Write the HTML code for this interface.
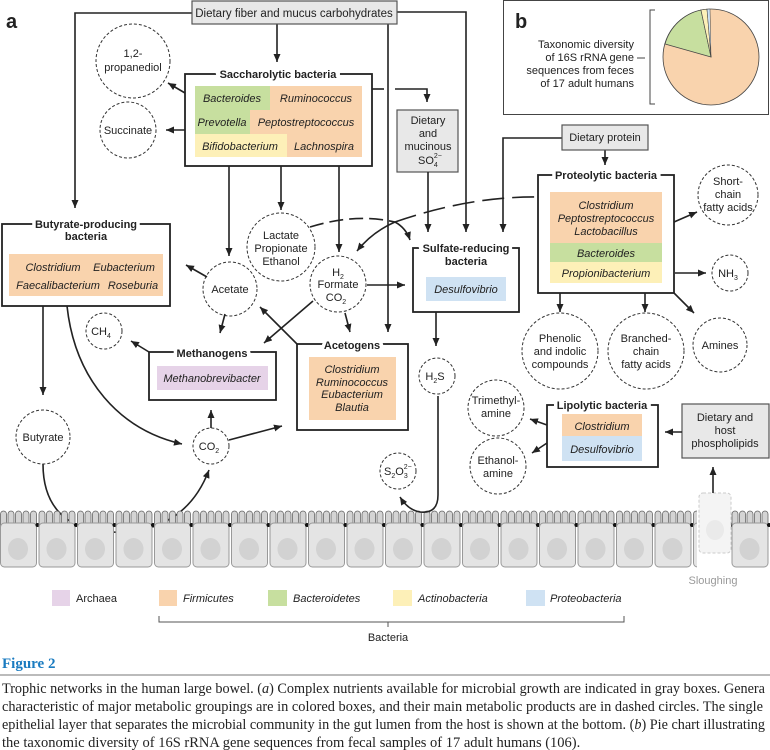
<!DOCTYPE html>
<html><head><meta charset="utf-8"><style>
html,body{margin:0;padding:0;background:#fff}
svg{display:block;font-family:"Liberation Sans",sans-serif}
.t{font-size:11px;fill:#222}
.b{font-size:11px;font-weight:bold;fill:#222;stroke:#fff;stroke-width:7px;paint-order:stroke}
.i{font-size:11px;font-style:italic;fill:#222}
.ln{stroke:#222;stroke-width:1.6;fill:none}
.ar{stroke:#222;stroke-width:1.6;fill:none;marker-end:url(#a)}
.dc{fill:#fff;stroke:#333;stroke-width:1;stroke-dasharray:3,2}
.bx{fill:#fff;stroke:#222;stroke-width:1.8}
.gb{fill:#e8e8e8;stroke:#555;stroke-width:1.2}
.cap{font-family:"Liberation Serif",serif;font-size:14.5px;fill:#222}
</style></head><body>
<svg width="770" height="750" viewBox="0 0 770 750" xmlns="http://www.w3.org/2000/svg">
<defs>
<marker id="a" markerUnits="userSpaceOnUse" markerWidth="10" markerHeight="8" refX="8" refY="3.5" orient="auto"><path d="M0,0 L8,3.5 L0,7 z" fill="#222"/></marker>
<pattern id="cell" patternUnits="userSpaceOnUse" x="0" y="505" width="38.5" height="70">
<rect x="0.5" y="6" width="6" height="20" rx="3" fill="#d4d4d4" stroke="#666" stroke-width=".8"/>
<rect x="8" y="6" width="6" height="20" rx="3" fill="#d4d4d4" stroke="#666" stroke-width=".8"/>
<rect x="15.5" y="6" width="6" height="20" rx="3" fill="#d4d4d4" stroke="#666" stroke-width=".8"/>
<rect x="23" y="6" width="6" height="20" rx="3" fill="#d4d4d4" stroke="#666" stroke-width=".8"/>
<rect x="30.5" y="6" width="6" height="20" rx="3" fill="#d4d4d4" stroke="#666" stroke-width=".8"/>
<rect x="0.5" y="18" width="36" height="44" rx="4" fill="#e4e4e4" stroke="#999" stroke-width="1"/>
<ellipse cx="18" cy="44" rx="10" ry="11" fill="#d2d2d2"/>
<circle cx="37.5" cy="20" r="2" fill="#111"/>
</pattern>
</defs>

<path class="ln" d="M43,464 C43,500 60,530 110,532 C150,534 190,520 209,470" marker-end="url(#a)"/>

<rect x="0" y="505" width="697" height="65" fill="url(#cell)"/>
<rect x="731" y="505" width="39" height="65" fill="url(#cell)"/>
<g opacity="0.6">
<rect x="699" y="493" width="32" height="60" rx="4" fill="#eee" stroke="#aaa" stroke-dasharray="3,2"/>
<ellipse cx="715" cy="530" rx="9" ry="10" fill="#ddd"/>
</g>
<text x="713" y="584" text-anchor="middle" class="t" style="fill:#999">Sloughing</text>

<text x="6" y="28" style="font-size:20px;font-weight:bold;fill:#222">a</text>

<path class="ar" d="M192,13 H75 V208"/>
<path class="ar" d="M397,12 H466 V232"/>
<path class="ar" d="M388,24 V332"/>
<path class="ar" d="M277,24 V62"/>
<rect class="gb" x="192" y="1" width="205" height="23"/>
<text x="294" y="17" text-anchor="middle" class="t" style="font-size:11.5px">Dietary fiber and mucus carbohydrates</text>

<rect class="bx" x="185" y="74" width="187" height="92"/>
<text x="278" y="78" text-anchor="middle" class="b">Saccharolytic bacteria</text>
<rect x="195" y="86" width="167" height="71" fill="#f9d3ad"/>
<path d="M195,86 H270 V110 H250 V134 H195 Z" fill="#c7df9f"/>
<rect x="195" y="134" width="92" height="23" fill="#fdf0b8"/>
<text x="232" y="102" text-anchor="middle" class="i">Bacteroides</text>
<text x="316" y="102" text-anchor="middle" class="i">Ruminococcus</text>
<text x="222" y="126" text-anchor="middle" class="i">Prevotella</text>
<text x="306" y="126" text-anchor="middle" class="i">Peptostreptococcus</text>
<text x="240" y="150" text-anchor="middle" class="i">Bifidobacterium</text>
<text x="324" y="150" text-anchor="middle" class="i">Lachnospira</text>

<circle class="dc" cx="133" cy="61" r="37"/>
<text x="133" y="57" text-anchor="middle" class="t">1,2-</text>
<text x="133" y="71" text-anchor="middle" class="t">propanediol</text>
<circle class="dc" cx="128" cy="130" r="28"/>
<text x="128" y="134" text-anchor="middle" class="t">Succinate</text>
<path class="ar" d="M185,93 L168,83"/>
<path class="ar" d="M185,130 L166,130"/>

<path class="ln" d="M372,89 H384"/>
<path class="ar" d="M395,89 H427 V102"/>
<rect class="gb" x="397" y="110" width="61" height="62"/>
<text x="428" y="124" text-anchor="middle" class="t">Dietary</text>
<text x="428" y="137" text-anchor="middle" class="t">and</text>
<text x="428" y="150" text-anchor="middle" class="t">mucinous</text>
<text x="418" y="164" class="t">SO<tspan font-size="7" dy="3">4</tspan><tspan font-size="7" dx="-4" dy="-9">2−</tspan></text>
<path class="ar" d="M428,172 V232"/>

<path class="ar" d="M229,166 V256"/>
<path class="ar" d="M281,166 V210"/>
<path class="ar" d="M339,166 V252"/>

<circle class="dc" cx="281" cy="247" r="34"/>
<text x="281" y="239" text-anchor="middle" class="t">Lactate</text>
<text x="281" y="252" text-anchor="middle" class="t">Propionate</text>
<text x="281" y="265" text-anchor="middle" class="t">Ethanol</text>
<circle class="dc" cx="230" cy="289" r="27"/>
<text x="230" y="293" text-anchor="middle" class="t">Acetate</text>
<circle class="dc" cx="338" cy="284" r="28"/>
<text x="338" y="276" text-anchor="middle" class="t">H<tspan font-size="7" dy="3">2</tspan></text>
<text x="338" y="288" text-anchor="middle" class="t">Formate</text>
<text x="336" y="301" text-anchor="middle" class="t">CO<tspan font-size="7" dy="3">2</tspan></text>

<path class="ln" d="M310,227 Q355,213 395,222" stroke-dasharray="14,6"/>
<path class="ln" d="M395,222 Q470,196 539,197" stroke-dasharray="22,8"/>
<path class="ar" d="M395,222 Q406,228 410,240"/>
<path class="ar" d="M395,222 Q372,232 357,251"/>

<rect class="bx" x="2" y="224" width="168" height="82"/>
<text x="86" y="228" text-anchor="middle" class="b">Butyrate-producing</text>
<text x="86" y="240" text-anchor="middle" class="b">bacteria</text>
<rect x="9" y="254" width="154" height="42" fill="#f9d3ad"/>
<text x="53" y="271" text-anchor="middle" class="i">Clostridium</text>
<text x="124" y="271" text-anchor="middle" class="i">Eubacterium</text>
<text x="58" y="289" text-anchor="middle" class="i">Faecalibacterium</text>
<text x="133" y="289" text-anchor="middle" class="i">Roseburia</text>
<path class="ar" d="M207,277 L186,265"/>

<path class="ar" d="M43,306 V395"/>
<circle class="dc" cx="43" cy="437" r="27"/>
<text x="43" y="441" text-anchor="middle" class="t">Butyrate</text>
<path class="ar" d="M67,306 C75,380 120,430 182,444"/>
<circle class="dc" cx="211" cy="446" r="18"/>
<text x="209" y="450" text-anchor="middle" class="t">CO<tspan font-size="7" dy="3">2</tspan></text>
<path class="ar" d="M211,428 V410"/>
<path class="ar" d="M229,440 L282,426"/>

<path class="ar" d="M225,314 L220,333"/>
<path class="ar" d="M313,301 L264,343"/>
<rect class="bx" x="149" y="352" width="127" height="48"/>
<text x="212" y="357" text-anchor="middle" class="b">Methanogens</text>
<rect x="157" y="366" width="111" height="24" fill="#e6d3e8"/>
<text x="212" y="382" text-anchor="middle" class="i">Methanobrevibacter</text>
<circle class="dc" cx="104" cy="331" r="18"/>
<text x="101" y="335" text-anchor="middle" class="t">CH<tspan font-size="7" dy="3">4</tspan></text>
<path class="ar" d="M149,352 L131,341"/>

<path class="ar" d="M297,344 L260,307"/>
<path class="ar" d="M345,313 L350,332"/>
<path class="ar" d="M367,285 H405"/>
<rect class="bx" x="297" y="344" width="111" height="86"/>
<text x="352" y="349" text-anchor="middle" class="b">Acetogens</text>
<rect x="309" y="357" width="87" height="63" fill="#f9d3ad"/>
<text x="352" y="373" text-anchor="middle" class="i">Clostridium</text>
<text x="352" y="386" text-anchor="middle" class="i">Ruminococcus</text>
<text x="352" y="398" text-anchor="middle" class="i">Eubacterium</text>
<text x="352" y="411" text-anchor="middle" class="i">Blautia</text>

<rect class="bx" x="413" y="248" width="106" height="64"/>
<text x="466" y="252" text-anchor="middle" class="b">Sulfate-reducing</text>
<text x="466" y="265" text-anchor="middle" class="b">bacteria</text>
<rect x="426" y="277" width="80" height="24" fill="#cfe2f3"/>
<text x="466" y="293" text-anchor="middle" class="i">Desulfovibrio</text>
<path class="ar" d="M436,312 V346"/>
<circle class="dc" cx="437" cy="376" r="18"/>
<text x="435" y="380" text-anchor="middle" class="t">H<tspan font-size="7" dy="3">2</tspan><tspan dy="-3">S</tspan></text>
<path class="ar" d="M438,396 V495 Q438,514 420,512 Q408,510 400,497"/>
<circle class="dc" cx="398" cy="471" r="18"/>
<text x="384" y="475" class="t">S<tspan font-size="7" dy="3">2</tspan><tspan dy="-3">O</tspan><tspan font-size="7" dy="3">3</tspan><tspan font-size="7" dx="-4" dy="-9">2−</tspan></text>

<path class="ar" d="M562,138 H503 V232"/>
<path class="ar" d="M605,150 V165"/>
<rect class="gb" x="562" y="125" width="86" height="25"/>
<text x="605" y="141" text-anchor="middle" class="t">Dietary protein</text>
<rect class="bx" x="538" y="175" width="136" height="118"/>
<text x="606" y="179" text-anchor="middle" class="b">Proteolytic bacteria</text>
<rect x="550" y="192" width="112" height="51" fill="#f9d3ad"/>
<rect x="550" y="243" width="112" height="19" fill="#c7df9f"/>
<rect x="550" y="262" width="112" height="21" fill="#fdf0b8"/>
<text x="606" y="209" text-anchor="middle" class="i">Clostridium</text>
<text x="606" y="222" text-anchor="middle" class="i">Peptostreptococcus</text>
<text x="606" y="235" text-anchor="middle" class="i">Lactobacillus</text>
<text x="606" y="257" text-anchor="middle" class="i">Bacteroides</text>
<text x="606" y="277" text-anchor="middle" class="i">Propionibacterium</text>
<circle class="dc" cx="728" cy="195" r="30"/>
<text x="728" y="185" text-anchor="middle" class="t">Short-</text>
<text x="728" y="198" text-anchor="middle" class="t">chain</text>
<text x="728" y="211" text-anchor="middle" class="t">fatty acids</text>
<path class="ar" d="M674,222 L697,212"/>
<circle class="dc" cx="730" cy="273" r="18"/>
<text x="728" y="277" text-anchor="middle" class="t">NH<tspan font-size="7" dy="3">3</tspan></text>
<path class="ar" d="M675,273 H706"/>
<path class="ar" d="M560,293 V312"/>
<path class="ar" d="M645,293 V312"/>
<path class="ar" d="M674,293 L694,313"/>
<circle class="dc" cx="560" cy="351" r="38"/>
<text x="560" y="342" text-anchor="middle" class="t">Phenolic</text>
<text x="560" y="355" text-anchor="middle" class="t">and indolic</text>
<text x="560" y="368" text-anchor="middle" class="t">compounds</text>
<circle class="dc" cx="646" cy="351" r="38"/>
<text x="646" y="342" text-anchor="middle" class="t">Branched-</text>
<text x="646" y="355" text-anchor="middle" class="t">chain</text>
<text x="646" y="368" text-anchor="middle" class="t">fatty acids</text>
<circle class="dc" cx="720" cy="345" r="27"/>
<text x="720" y="349" text-anchor="middle" class="t">Amines</text>

<rect class="bx" x="547" y="405" width="111" height="62"/>
<text x="602" y="409" text-anchor="middle" class="b">Lipolytic bacteria</text>
<rect x="562" y="414" width="80" height="22" fill="#f9d3ad"/>
<rect x="562" y="436" width="80" height="25" fill="#cfe2f3"/>
<text x="602" y="430" text-anchor="middle" class="i">Clostridium</text>
<text x="602" y="453" text-anchor="middle" class="i">Desulfovibrio</text>
<circle class="dc" cx="496" cy="408" r="28"/>
<text x="496" y="404" text-anchor="middle" class="t">Trimethyl-</text>
<text x="496" y="417" text-anchor="middle" class="t">amine</text>
<circle class="dc" cx="498" cy="466" r="28"/>
<text x="498" y="464" text-anchor="middle" class="t">Ethanol-</text>
<text x="498" y="477" text-anchor="middle" class="t">amine</text>
<path class="ar" d="M547,425 L530,419"/>
<path class="ar" d="M547,443 L532,453"/>
<rect class="gb" x="682" y="404" width="87" height="54"/>
<text x="725" y="421" text-anchor="middle" class="t">Dietary and</text>
<text x="725" y="434" text-anchor="middle" class="t">host</text>
<text x="725" y="447" text-anchor="middle" class="t">phospholipids</text>
<path class="ar" d="M682,432 H665"/>
<path class="ar" d="M713,493 V467"/>

<rect x="503.5" y="0.5" width="265" height="114" fill="#fff" stroke="#444" stroke-width="1"/>
<text x="515" y="28" style="font-size:20px;font-weight:bold;fill:#222">b</text>
<text x="634" y="48" text-anchor="end" class="t">Taxonomic diversity</text>
<text x="634" y="61" text-anchor="end" class="t">of 16S rRNA gene</text>
<text x="634" y="74" text-anchor="end" class="t">sequences from feces</text>
<text x="634" y="87" text-anchor="end" class="t">of 17 adult humans</text>
<path d="M637,58 H645 M655,10 H650 V104 H655" stroke="#444" stroke-width="1" fill="none"/>
<circle cx="711" cy="57" r="48" fill="#f9d3ad" stroke="#444" stroke-width=".8"/>
<path d="M711,57 L665,44 A48,48 0 0 1 701,10 Z" fill="#c7df9f" stroke="#444" stroke-width=".8"/>
<path d="M711,57 L701,10 A48,48 0 0 1 707,9.2 Z" fill="#fdf0b8" stroke="#444" stroke-width=".6"/>
<path d="M711,57 L707,9.2 A48,48 0 0 1 710,9 Z" fill="#cfe2f3" stroke="#444" stroke-width=".5"/>

<rect x="52" y="590" width="18" height="16" fill="#e6d3e8"/>
<text x="76" y="602" class="t">Archaea</text>
<rect x="159" y="590" width="18" height="16" fill="#f9d3ad"/>
<text x="183" y="602" class="i">Firmicutes</text>
<rect x="268" y="590" width="19" height="16" fill="#c7df9f"/>
<text x="293" y="602" class="i">Bacteroidetes</text>
<rect x="393" y="590" width="19" height="16" fill="#fdf0b8"/>
<text x="418" y="602" class="i">Actinobacteria</text>
<rect x="526" y="590" width="19" height="16" fill="#cfe2f3"/>
<text x="550" y="602" class="i">Proteobacteria</text>
<path d="M159,616 V622 H624 V616 M388,622 V627" stroke="#555" stroke-width="1" fill="none"/>
<text x="388" y="641" text-anchor="middle" class="t">Bacteria</text>

<text x="2" y="668" style="font-family:'Liberation Serif',serif;font-size:15px;font-weight:bold;fill:#1a7bc0">Figure 2</text>
<line x1="0" y1="675" x2="770" y2="675" stroke="#777" stroke-width="1"/>
<text x="2" y="693" class="cap" textLength="763" lengthAdjust="spacingAndGlyphs">Trophic networks in the human large bowel. (<tspan font-style="italic">a</tspan>) Complex nutrients available for microbial growth are indicated in gray boxes. Genera</text>
<text x="2" y="711" class="cap" textLength="761" lengthAdjust="spacingAndGlyphs">characteristic of major metabolic groupings are in colored boxes, and their main metabolic products are in dashed circles. The single</text>
<text x="2" y="729" class="cap" textLength="763" lengthAdjust="spacingAndGlyphs">epithelial layer that separates the microbial community in the gut lumen from the host is shown at the bottom. (<tspan font-style="italic">b</tspan>) Pie chart illustrating</text>
<text x="2" y="747" class="cap">the taxonomic diversity of 16S rRNA gene sequences from fecal samples of 17 adult humans (106).</text>
</svg>
</body></html>
